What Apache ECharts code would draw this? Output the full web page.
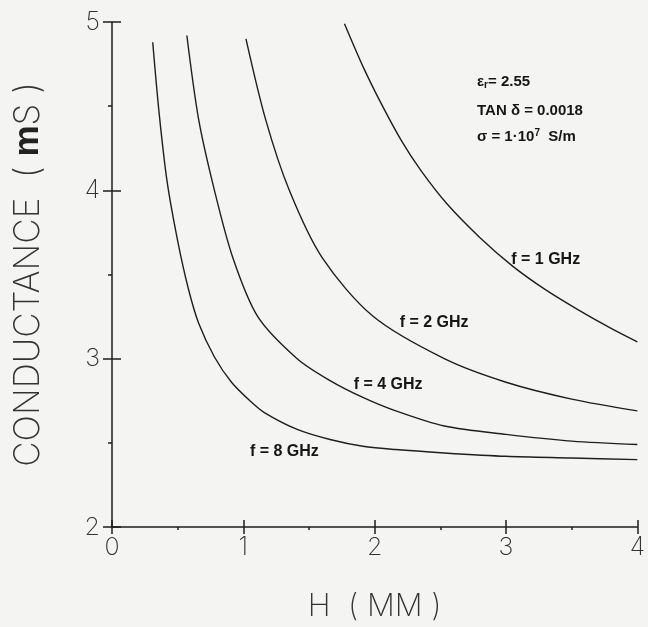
<!DOCTYPE html>
<html>
<head>
<meta charset="utf-8">
<script src="https://cdn.jsdelivr.net/npm/echarts@6/dist/echarts.min.js"></script>
<style>
  html, body { margin: 0; padding: 0; background: #f4f4f2; }
  #chart { width: 648px; height: 627px; }
</style>
</head>
<body>
<div id="chart"></div>
<script>
// Conductance versus substrate height H, one curve per frequency
const hAt8GHz = [0.31, 0.36, 0.42, 0.50, 0.58, 0.66, 0.78, 0.91, 1.05, 1.16, 1.41, 1.66, 1.91, 2.16, 2.53, 3.0, 3.5, 4.0];
const gAt8GHz = [4.88, 4.45, 4.05, 3.70, 3.42, 3.21, 3.01, 2.86, 2.75, 2.68, 2.58, 2.52, 2.48, 2.46, 2.44, 2.42, 2.41, 2.40];

const hAt4GHz = [0.57, 0.66, 0.78, 0.92, 1.11, 1.41, 1.66, 1.91, 2.16, 2.53, 3.0, 3.5, 4.0];
const gAt4GHz = [4.92, 4.42, 4.0, 3.6, 3.25, 3.0, 2.87, 2.77, 2.69, 2.60, 2.55, 2.51, 2.49];

const hAt2GHz = [1.02, 1.17, 1.35, 1.6, 1.99, 2.53, 3.0, 3.5, 4.0];
const gAt2GHz = [4.90, 4.42, 4.0, 3.6, 3.25, 3.0, 2.86, 2.76, 2.69];

const hAt1GHz = [1.77, 1.92, 2.06, 2.2, 2.35, 2.55, 2.8, 3.05, 3.3, 3.55, 3.8, 4.0];
const gAt1GHz = [4.99, 4.72, 4.50, 4.30, 4.12, 3.92, 3.72, 3.55, 3.41, 3.29, 3.18, 3.10];

const curveNames = ['f = 1 GHz', 'f = 2 GHz', 'f = 4 GHz', 'f = 8 GHz'];

const zip = (xs, ys) => xs.map((x, i) => [x, ys[i]]);
const curves = [
  zip(hAt1GHz, gAt1GHz),
  zip(hAt2GHz, gAt2GHz),
  zip(hAt4GHz, gAt4GHz),
  zip(hAt8GHz, gAt8GHz)
];

const INK = '#1e1e1e';
const THIN_FONT = 'Inter, Roboto, "DejaVu Sans", sans-serif';
const BOLD_FONT = '"Liberation Sans", Arial, sans-serif';

const chart = echarts.init(document.getElementById('chart'));

const tickLabelStyle = { color: '#333', fontFamily: THIN_FONT, fontWeight: 200, fontSize: 25 };

const option = {
  backgroundColor: '#f4f4f2',
  animation: false,
  grid: { left: 112, right: 2, top: 22, bottom: 95 },
  xAxis: [
    {
      type: 'value', min: 0, max: 4, interval: 1, position: 'bottom',
      name: 'H  ( MM )', nameLocation: 'middle', nameGap: 64,
      nameTextStyle: { color: '#333', fontFamily: THIN_FONT, fontWeight: 200, fontSize: 31 },
      axisLine: { show: true, onZero: false, lineStyle: { color: INK, width: 1.5 } },
      axisTick: { show: true, length: 7, lineStyle: { color: INK, width: 1.5 } },
      minorTick: { show: true, splitNumber: 2, length: 3, lineStyle: { color: INK, width: 1.5 } },
      axisLabel: Object.assign({ margin: 8 }, tickLabelStyle),
      splitLine: { show: false }
    },
    {
      // inner half of the crossing ticks
      type: 'value', min: 0, max: 4, interval: 1, position: 'bottom',
      axisLine: { show: false },
      axisTick: { show: true, inside: true, length: 7, lineStyle: { color: INK, width: 1.5 } },
      axisLabel: { show: false },
      splitLine: { show: false }
    }
  ],
  yAxis: [
    {
      type: 'value', min: 2, max: 5, interval: 1, position: 'left',
      name: '{t|CONDUCTANCE  ( }{m|m}{t|S )}', nameLocation: 'middle', nameGap: 66, nameRotate: 90,
      nameTextStyle: {
        rich: {
          t: { color: '#333', fontFamily: THIN_FONT, fontWeight: 200, fontSize: 35 },
          m: { color: '#222', fontFamily: BOLD_FONT, fontWeight: 'bold', fontSize: 35 }
        }
      },
      axisLine: { show: true, onZero: false, lineStyle: { color: INK, width: 1.5 } },
      axisTick: { show: true, length: 9, lineStyle: { color: INK, width: 1.5 } },
      minorTick: { show: true, splitNumber: 2, length: 4, lineStyle: { color: INK, width: 1.5 } },
      axisLabel: Object.assign({ margin: 12 }, tickLabelStyle),
      splitLine: { show: false }
    },
    {
      type: 'value', min: 2, max: 5, interval: 1, position: 'left',
      axisLine: { show: false },
      axisTick: { show: true, inside: true, length: 9, lineStyle: { color: INK, width: 1.5 } },
      axisLabel: { show: false },
      splitLine: { show: false }
    }
  ],
  series: curves.map((pts, i) => ({
    name: curveNames[i],
    type: 'line',
    data: pts,
    smooth: 0.3,
    showSymbol: false,
    lineStyle: { color: INK, width: 1.4 },
    xAxisIndex: 0,
    yAxisIndex: 0
  }))
};

chart.setOption(option);

// Curve captions and material constants, anchored in data coordinates
const captionAnchors = [[3.04, 3.58], [2.19, 3.21], [1.84, 2.84], [1.05, 2.44]];
const graphics = captionAnchors.map((c, i) => {
  const p = chart.convertToPixel({ gridIndex: 0 }, c);
  return {
    type: 'text', left: p[0], top: p[1] - 9,
    style: { text: curveNames[i], fill: '#151515', font: 'bold 16px ' + BOLD_FONT }
  };
});

const constTextStyle = { fill: '#151515', font: 'bold 15px ' + BOLD_FONT };
graphics.push(
  {
    type: 'text', left: 477, top: 74,
    style: {
      text: '{b|ε}{s|r}{b|= 2.55}',
      rich: {
        b: { fill: '#151515', font: 'bold 15px ' + BOLD_FONT },
        s: { fill: '#151515', font: 'bold 10px ' + BOLD_FONT, verticalAlign: 'bottom', padding: [8, 0, 0, 0] }
      }
    }
  },
  {
    type: 'text', left: 477, top: 103,
    style: Object.assign({ text: 'TAN δ = 0.0018' }, constTextStyle)
  },
  {
    type: 'text', left: 477, top: 128,
    style: {
      text: '{b|σ = 1·10}{p|7}{b|  S/m}',
      rich: {
        b: { fill: '#151515', font: 'bold 15px ' + BOLD_FONT },
        p: { fill: '#151515', font: 'bold 10px ' + BOLD_FONT, padding: [0, 0, 8, 0] }
      }
    }
  }
);

chart.setOption({ graphic: graphics });
</script>
</body>
</html>
